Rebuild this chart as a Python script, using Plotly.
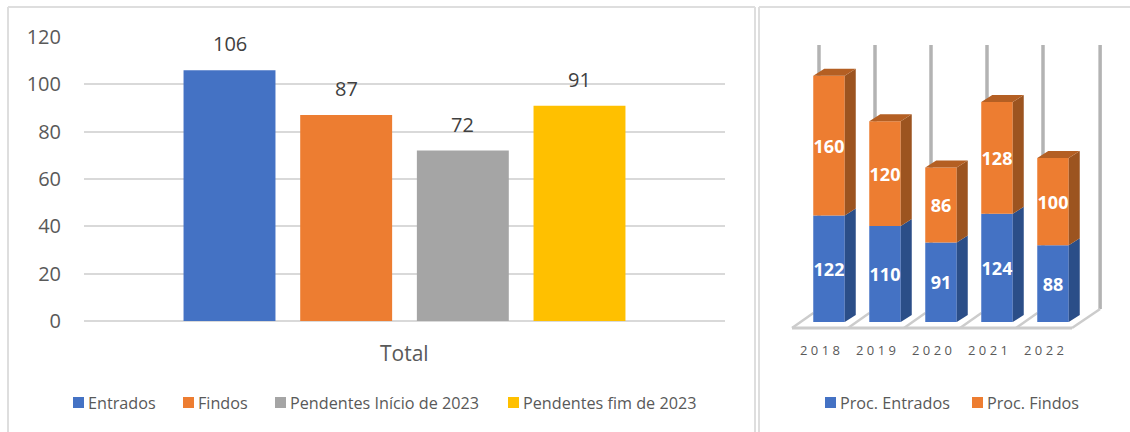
import plotly.graph_objects as go

# ---- data ----
left_series = ["Entrados", "Findos", "Pendentes Início de 2023", "Pendentes fim de 2023"]
left_values = [106, 87, 72, 91]
left_colors = ["#4472C4", "#ED7D31", "#A5A5A5", "#FFC000"]
left_category = ["Total"]
left_ticks = [0, 20, 40, 60, 80, 100, 120]

years = ["2018", "2019", "2020", "2021", "2022"]
entrados = [122, 110, 91, 124, 88]
findos = [160, 120, 86, 128, 100]
right_series = ["Proc. Entrados", "Proc. Findos"]
right_colors = ["#4472C4", "#ED7D31"]

W, H = 1130, 432
TXT = "#595959"
FONT = "Open Sans"

def px_x(p): return p / W
def px_y(p): return 1 - p / H

L = (84, 725, 37, 321)          # left plot x0,x1,y0(120),y1(0)
R = (780, 1125, 30, 338)        # right plot area
PITCH = 56.0                    # px per category on right chart
C0 = 829.0                      # px of first category centre
Y0 = 322.0                      # px of value 0
SCALE = 0.873                   # px per unit
BAR_W = 31.5 / PITCH
DX = 11.0 / PITCH               # depth in x units
DY = 7.0 / SCALE                # depth in y units

fig = go.Figure()

# ---- left chart ----
BARGAP = 0.272
GROUPGAP = 0.212
for name, v, c in zip(left_series, left_values, left_colors):
    fig.add_trace(go.Bar(name=name, x=left_category, y=[v], marker=dict(color=c, line_width=0),
                         xaxis="x", yaxis="y", showlegend=False, hoverinfo="skip"))

slot = (1 - BARGAP) / len(left_values)
annos = []
for i, v in enumerate(left_values):
    annos.append(dict(x=(i - (len(left_values) - 1) / 2) * slot, y=v, xref="x", yref="y",
                      text=str(v), showarrow=False, yanchor="bottom", yshift=11,
                      font=dict(family=FONT, size=20, color="#404040")))
annos.append(dict(x=0.5, y=px_y(353), xref="x domain", yref="paper", text=left_category[0],
                  showarrow=False, yanchor="middle",
                  font=dict(family=FONT, size=21, color=TXT)))

# ---- right chart ----
xs = list(range(len(years)))
label_font = dict(family=FONT, size=18, color="white", weight="bold")
fig.add_trace(go.Bar(name=right_series[0], x=xs, y=entrados, width=BAR_W, offsetgroup="r",
                     marker=dict(color=right_colors[0], line_width=0), xaxis="x2", yaxis="y2",
                     showlegend=False, text=[str(v) for v in entrados], hoverinfo="skip",
                     textposition="inside", insidetextanchor="middle", textangle=0,
                     constraintext="none", textfont=label_font))
fig.add_trace(go.Bar(name=right_series[1], x=xs, y=findos, base=entrados, width=BAR_W, offsetgroup="r",
                     marker=dict(color=right_colors[1], line_width=0), xaxis="x2", yaxis="y2",
                     showlegend=False, text=[str(v) for v in findos], hoverinfo="skip",
                     textposition="inside", insidetextanchor="middle", textangle=0,
                     constraintext="none", textfont=label_font))

def faces(lo, hi):
    sx, sy = [], []
    for i in xs:
        r = i + BAR_W / 2
        sx += [r, r + DX, r + DX, r, r, None]
        sy += [lo[i], lo[i] + DY, hi[i] + DY, hi[i], lo[i], None]
    return sx, sy

totals = [a + b for a, b in zip(entrados, findos)]
zero = [0] * len(xs)
for (lo, hi, col) in ((zero, entrados, "#2B4E88"), (entrados, totals, "#9C5420")):
    sx, sy = faces(lo, hi)
    fig.add_trace(go.Scatter(x=sx, y=sy, mode="lines", fill="toself", fillcolor=col,
                             line=dict(width=0, color=col), showlegend=False, hoverinfo="skip",
                             xaxis="x2", yaxis="y2"))
tx, ty = [], []
for i in xs:
    l, r = i - BAR_W / 2, i + BAR_W / 2
    tx += [l, l + DX, r + DX, r, l, None]
    ty += [totals[i], totals[i] + DY, totals[i] + DY, totals[i], totals[i], None]
fig.add_trace(go.Scatter(x=tx, y=ty, mode="lines", fill="toself", fillcolor="#B45F23",
                         line=dict(width=0, color="#B45F23"), showlegend=False, hoverinfo="skip",
                         xaxis="x2", yaxis="y2"))

# walls and floor (below the bars), in the right chart's axis coordinates
shapes = []
WALL_OFF = (819 - C0) / PITCH
WALL_TOP = (Y0 - 45) / SCALE
FLOOR_BACK = (Y0 - 309) / SCALE
FLOOR_FRONT = (Y0 - 328) / SCALE
F_OFF = (792 - C0) / PITCH
for i in range(len(xs) + 1):
    last = i == len(xs)
    wx = i + WALL_OFF + (0.02 if last else 0)
    shapes.append(dict(type="line", xref="x2", yref="y2", layer="below",
                       x0=wx, x1=wx, y0=FLOOR_BACK, y1=WALL_TOP,
                       line=dict(color="#B3B3B3", width=3.5)))
    shapes.append(dict(type="line", xref="x2", yref="y2", layer="below",
                       x0=i + F_OFF, x1=wx if last else i + WALL_OFF - 0.1,
                       y0=FLOOR_FRONT, y1=FLOOR_BACK if last else (Y0 - 313) / SCALE,
                       line=dict(color="#CCCCCC", width=2.5)))
shapes.append(dict(type="line", xref="x2", yref="y2", layer="below",
                   x0=F_OFF, x1=len(xs) + F_OFF, y0=FLOOR_FRONT, y1=FLOOR_FRONT,
                   line=dict(color="#CCCCCC", width=3)))

# panel borders
BORDER = "#DEDEDE"
def border(x0, y0, x1, y1):
    shapes.append(dict(type="line", xref="paper", yref="paper", layer="below",
                       x0=px_x(x0), x1=px_x(x1), y0=px_y(y0), y1=px_y(y1),
                       line=dict(color=BORDER, width=2)))
border(8, 7, 755, 7); border(8, 7, 8, 432); border(755, 7, 755, 432)
border(759, 7, 1130, 7); border(759, 7, 759, 432)

# legends: swatch and label placed as in the reference (swatch-to-text gap is tighter than a native legend allows)
def legend_row(names, colors, swatch_lefts):
    for name, col, x in zip(names, colors, swatch_lefts):
        shapes.append(dict(type="rect", xref="paper", yref="paper", layer="below",
                           x0=px_x(x), x1=px_x(x + 11), y0=px_y(397), y1=px_y(408),
                           fillcolor=col, line_width=0))
        annos.append(dict(x=px_x(x + 13), y=px_y(402.5), xref="paper", yref="paper", text=name,
                          showarrow=False, xanchor="left", yanchor="middle",
                          font=dict(family=FONT, size=16.2, color=TXT)))

legend_row(left_series, left_colors, [73, 183, 275, 508])
legend_row(right_series, right_colors, [825, 972])

fig.update_layout(
    width=W, height=H, autosize=False, margin=dict(l=0, r=0, t=0, b=0, autoexpand=False),
    paper_bgcolor="white", plot_bgcolor="rgba(0,0,0,0)",
    barmode="group", bargap=BARGAP, bargroupgap=GROUPGAP, showlegend=False,
    font=dict(family=FONT, color=TXT),
    xaxis=dict(domain=[px_x(L[0]), px_x(L[1])], anchor="y", type="category", showticklabels=False,
               showline=False, showgrid=False, ticks=""),
    yaxis=dict(domain=[px_y(L[3]), px_y(L[2])], anchor="x", range=[0, 120], tickvals=left_ticks,
               showgrid=True, gridcolor="#D9D9D9", gridwidth=2, zeroline=True, zerolinecolor="#D9D9D9",
               zerolinewidth=2, showline=False, ticks="", ticklabelstandoff=22,
               tickfont=dict(family=FONT, size=20, color=TXT)),
    xaxis2=dict(domain=[px_x(R[0]), px_x(R[1])], anchor="y2", range=[(R[0] - C0) / PITCH, (R[1] - C0) / PITCH],
                tickvals=[i + (820 - C0) / PITCH for i in xs], ticktext=[" ".join(y) for y in years],
                showgrid=False, zeroline=False, showline=False, ticks="", ticklabelstandoff=3,
                tickfont=dict(family=FONT, size=13, color=TXT)),
    yaxis2=dict(domain=[px_y(R[3]), px_y(R[2])], anchor="x2", range=[(Y0 - R[3]) / SCALE, (Y0 - R[2]) / SCALE],
                visible=False),
    shapes=shapes, annotations=annos,
)
fig.write_html("out.html", config={"displayModeBar": False},
               post_script="document.body.style.margin='0';document.body.style.overflow='hidden';")
